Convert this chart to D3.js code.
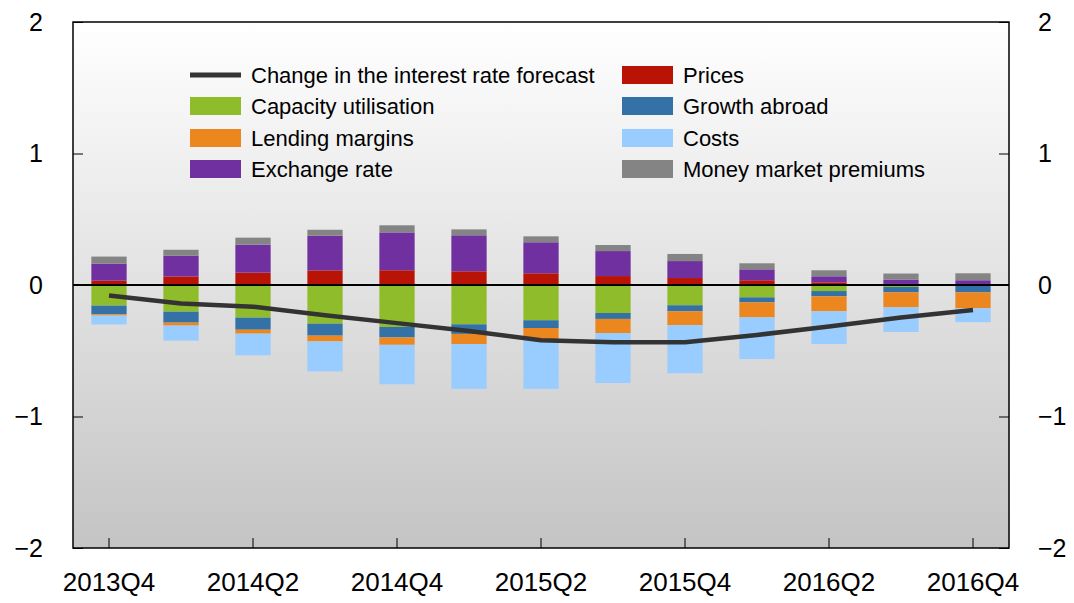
<!DOCTYPE html>
<html>
<head>
<meta charset="utf-8">
<script src="https://cdn.jsdelivr.net/npm/d3@7"></script>
<style>
  html, body { margin: 0; padding: 0; background: #ffffff; }
  svg { display: block; font-family: "Liberation Sans", Arial, Helvetica, sans-serif; }
</style>
</head>
<body>
<svg id="chart" width="1074" height="603"></svg>
<script>
const quarters = ["2013Q4","2014Q1","2014Q2","2014Q3","2014Q4","2015Q1","2015Q2","2015Q3","2015Q4","2016Q1","2016Q2","2016Q3","2016Q4"];
const tickQuarters = ["2013Q4","2014Q2","2014Q4","2015Q2","2015Q4","2016Q2","2016Q4"];
const yTicks = [-2, -1, 0, 1, 2];

const capacity    = [-0.157, -0.203, -0.248, -0.294, -0.319, -0.299, -0.268, -0.213, -0.154, -0.094, -0.046, -0.015, 0.000];
const growthAbroad= [-0.066, -0.083, -0.092, -0.091, -0.080, -0.073, -0.059, -0.045, -0.046, -0.038, -0.040, -0.041, -0.056];
const lending     = [-0.010, -0.023, -0.030, -0.044, -0.056, -0.077, -0.088, -0.107, -0.106, -0.114, -0.114, -0.114, -0.121];
const costs       = [-0.067, -0.114, -0.165, -0.228, -0.300, -0.341, -0.375, -0.380, -0.365, -0.317, -0.249, -0.187, -0.106];
const prices      = [0.033, 0.065, 0.094, 0.111, 0.112, 0.104, 0.089, 0.068, 0.053, 0.036, 0.020, 0.008, 0.000];
const exchange    = [0.130, 0.157, 0.212, 0.264, 0.288, 0.274, 0.236, 0.190, 0.129, 0.083, 0.046, 0.033, 0.036];
const moneyMarket = [0.053, 0.046, 0.054, 0.045, 0.054, 0.045, 0.045, 0.046, 0.054, 0.046, 0.046, 0.046, 0.053];
const forecast    = [-0.08, -0.14, -0.165, -0.23, -0.29, -0.35, -0.42, -0.435, -0.435, -0.38, -0.315, -0.247, -0.19];

const seriesNames = ["Capacity utilisation","Growth abroad","Lending margins","Costs","Prices","Exchange rate","Money market premiums"];
const seriesValues = [capacity, growthAbroad, lending, costs, prices, exchange, moneyMarket];
const seriesColors = ["#8fbc2b","#3371a6","#eb871e","#99ccff","#b81304","#7030a0","#848484"];
const lineName = "Change in the interest rate forecast";
const lineColor = "#333333";

const legendCol1 = [lineName, "Capacity utilisation", "Lending margins", "Exchange rate"];
const legendCol2 = ["Prices", "Growth abroad", "Costs", "Money market premiums"];

(function () {
const svg = d3.select("#chart");
const pLeft = 73, pRight = 1009, pTop = 22, pBottom = 548;

const x = d3.scaleBand().domain(quarters).range([pLeft, pRight]).paddingInner(0.51).paddingOuter(0.255);
const y = d3.scaleLinear().domain([-2, 2]).range([pBottom, pTop]);

// background gradient
const defs = svg.append("defs");
const grad = defs.append("linearGradient").attr("id","bg").attr("x1",0).attr("y1",0).attr("x2",0).attr("y2",1);
grad.append("stop").attr("offset","0%").attr("stop-color","#ffffff");
grad.append("stop").attr("offset","100%").attr("stop-color","#c4c4c4");
svg.append("rect").attr("x", pLeft).attr("y", pTop).attr("width", pRight-pLeft).attr("height", pBottom-pTop).attr("fill","url(#bg)");

// stacked data
const table = quarters.map((q, i) => {
  const o = {quarter: q};
  seriesNames.forEach((n, k) => o[n] = seriesValues[k][i]);
  return o;
});
const stack = d3.stack().keys(seriesNames).offset(d3.stackOffsetDiverging);
const stacked = stack(table);

const color = d3.scaleOrdinal().domain(seriesNames).range(seriesColors);

svg.append("g").selectAll("g").data(stacked).join("g")
  .attr("fill", d => color(d.key))
  .selectAll("rect").data(d => d).join("rect")
  .attr("x", d => x(d.data.quarter))
  .attr("width", x.bandwidth())
  .attr("y", d => y(Math.max(d[0], d[1])))
  .attr("height", d => Math.abs(y(d[0]) - y(d[1])));

// zero line
svg.append("line").attr("x1", pLeft).attr("x2", pRight).attr("y1", y(0)).attr("y2", y(0))
  .attr("stroke", "#000").attr("stroke-width", 2);

// forecast line
const line = d3.line().x((d, i) => x(quarters[i]) + x.bandwidth()/2).y(d => y(d));
svg.append("path").datum(forecast).attr("d", line).attr("fill","none")
  .attr("stroke", lineColor).attr("stroke-width", 4.5).attr("stroke-linejoin","round");

// axes
const fmt = d => d < 0 ? "\u2212" + Math.abs(d) : String(d);
const yLeft = d3.axisLeft(y).tickValues(yTicks).tickSize(-10).tickPadding(30).tickFormat(fmt);
const gl = svg.append("g").attr("transform", `translate(${pLeft},0)`).call(yLeft);
const yRight = d3.axisRight(y).tickValues(yTicks).tickSize(-10).tickPadding(29).tickFormat(fmt);
const gr = svg.append("g").attr("transform", `translate(${pRight},0)`).call(yRight);
const xAxis = d3.axisBottom(x).tickValues(tickQuarters).tickSize(-10).tickPadding(25);
const gx = svg.append("g").attr("transform", `translate(0,${pBottom})`).call(xAxis);
[gl, gr, gx].forEach(g => {
  g.select(".domain").remove();
  g.selectAll(".tick line").attr("stroke", "#000").attr("stroke-width", 1);
  g.selectAll("text").attr("fill", "#000").style("font-family", '"Liberation Sans", Arial, sans-serif');
});
gl.selectAll("text").style("font-size", "25px");
gr.selectAll("text").style("font-size", "25px");
gx.selectAll("text").style("font-size", "26px");

// frame
svg.append("rect").attr("x", pLeft).attr("y", pTop).attr("width", pRight-pLeft).attr("height", pBottom-pTop)
  .attr("fill","none").attr("stroke","#000").attr("stroke-width",1.5);

// legend
const rowY = [75, 106, 138, 169];
function legendItem(name, cx, cy) {
  const g = svg.append("g");
  if (name === lineName) {
    g.append("line").attr("x1", cx).attr("x2", cx + 51).attr("y1", cy).attr("y2", cy)
      .attr("stroke", lineColor).attr("stroke-width", 5);
  } else {
    g.append("rect").attr("x", cx).attr("y", cy - 9).attr("width", 51).attr("height", 18).attr("fill", color(name));
  }
  g.append("text").attr("x", cx + 61).attr("y", cy).attr("dy", "0.36em")
    .style("font-size", "22px").attr("fill", "#000").text(name);
}
legendCol1.forEach((n, i) => legendItem(n, 190, rowY[i]));
legendCol2.forEach((n, i) => legendItem(n, 622, rowY[i]));
})();
</script>
</body>
</html>
